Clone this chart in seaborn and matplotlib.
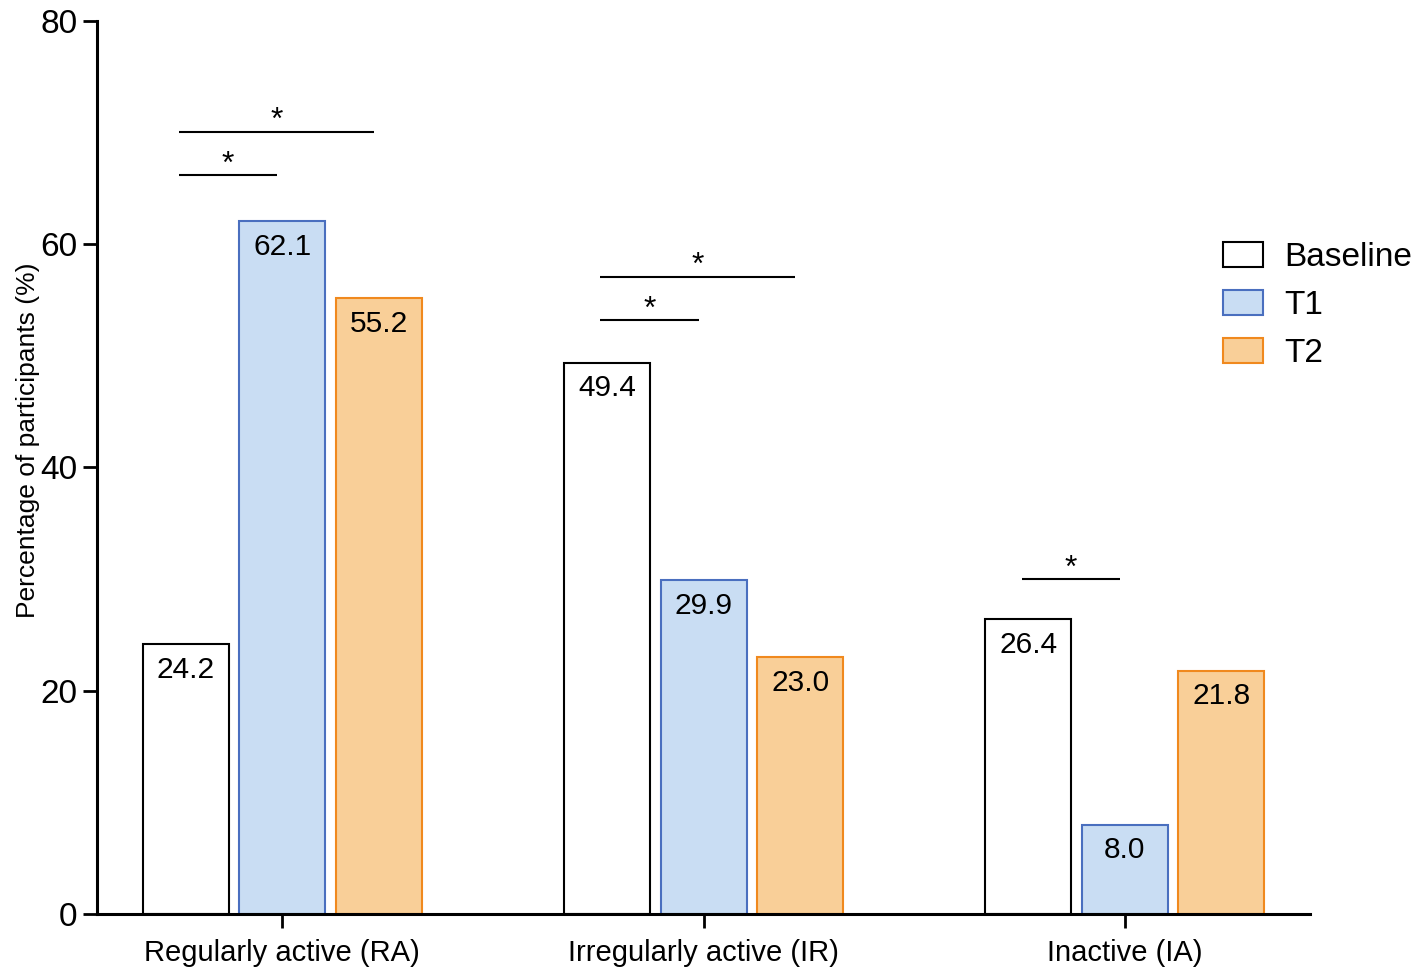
import pandas as pd
import seaborn as sns
import matplotlib.pyplot as plt
from matplotlib.patches import Patch

# values
categories = ["Regularly active (RA)", "Irregularly active (IR)", "Inactive (IA)"]
timepoints = ["Baseline", "T1", "T2"]
baseline = [24.2, 49.4, 26.4]
t1 = [62.1, 29.9, 8.0]
t2 = [55.2, 23.0, 21.8]

# significance brackets: (category index, second timepoint, height)
sig_cat = [0, 0, 1, 1, 2]
sig_to = ["T1", "T2", "T1", "T2", "T1"]
sig_y = [66.2, 70.1, 53.2, 57.1, 30.0]

fill_colors = ["#ffffff", "#c9ddf3", "#f9cf98"]
edge_colors = ["#000000", "#4a6fbf", "#f0891e"]

df = pd.DataFrame({
    "category": categories * 3,
    "time": [t for t in timepoints for _ in categories],
    "value": baseline + t1 + t2,
})

sns.set_style("ticks")
plt.rcParams["font.family"] = ["Liberation Sans", "DejaVu Sans"]
plt.rcParams.update({"text.color": "black", "axes.labelcolor": "black",
                     "xtick.color": "black", "ytick.color": "black",
                     "axes.edgecolor": "black"})

fig = plt.figure(figsize=(14.18, 9.77), dpi=100)
ax = fig.add_axes([0.0684, 0.0645, 0.8556, 0.914])

sns.barplot(data=df, x="category", y="value", hue="time", order=categories,
            hue_order=timepoints, palette=fill_colors, saturation=1,
            width=0.688, gap=0.11, legend=False, ax=ax)

# edge colours and value labels
centers = {}
for cont, ec, tp in zip(ax.containers, edge_colors, timepoints):
    for i, bar in enumerate(cont):
        bar.set_edgecolor(ec)
        bar.set_linewidth(1.5)
        cx = bar.get_x() + bar.get_width() / 2
        centers[(i, tp)] = cx
        ax.annotate(f"{bar.get_height():.1f}", (cx, bar.get_height()),
                    xytext=(0, -8.5), textcoords="offset points",
                    ha="center", va="top", fontsize=21.5)

# significance lines
for c, tp, y in zip(sig_cat, sig_to, sig_y):
    x0 = centers[(c, "Baseline")] - 0.016
    x1 = centers[(c, tp)] - 0.012
    ax.plot([x0, x1], [y, y], color="black", lw=1.5, solid_capstyle="butt")
    ax.text((x0 + x1) / 2, y + 0.2, "*", ha="center", va="baseline", fontsize=23)

ax.set_xlim(-0.44, 2.44)
ax.set_ylim(0, 80)
ax.set_yticks([0, 20, 40, 60, 80])
ax.set_xlabel("")
ax.set_ylabel("Percentage of participants (%)", fontsize=19)
ax.yaxis.set_label_coords(-0.047, 0.53)
ax.tick_params(axis="y", labelsize=24, length=10, width=2, pad=4)
ax.tick_params(axis="x", labelsize=21, length=10, width=2, pad=8)
for s in ["left", "bottom"]:
    ax.spines[s].set_linewidth(2.2)
sns.despine(ax=ax)

handles = [Patch(facecolor=f, edgecolor=e, linewidth=1.5)
           for f, e in zip(fill_colors, edge_colors)]
fig.legend(handles, timepoints, loc="upper left",
           bbox_to_anchor=(1223 / 1418, 1 - 242 / 977), frameon=False,
           fontsize=24, handlelength=1.2, handleheight=0.78,
           handletextpad=0.65, labelspacing=0.5, borderpad=0,
           borderaxespad=0)

fig.savefig("out.png", dpi=100)
